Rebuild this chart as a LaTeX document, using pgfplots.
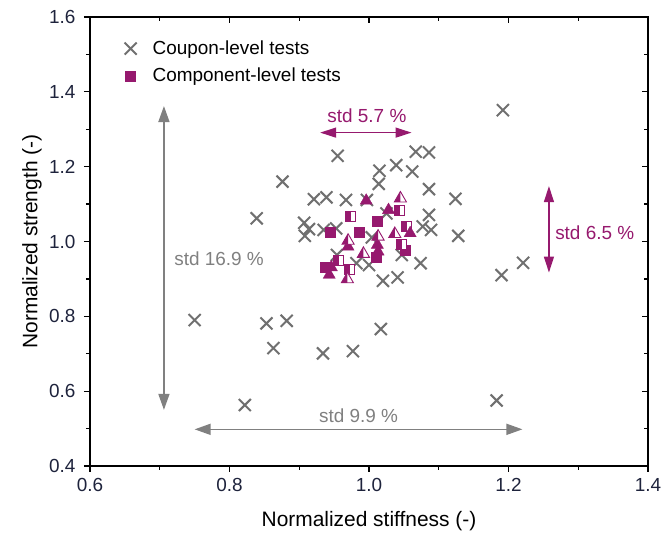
\documentclass[border=0pt]{standalone}
\usepackage{fontspec}
\setmainfont{Liberation Sans}
\usepackage{pgfplots}
\pgfplotsset{compat=1.18}
\usetikzlibrary{arrows.meta}
\definecolor{comp}{RGB}{150,25,110}
\definecolor{coup}{RGB}{112,112,112}
\definecolor{arrg}{RGB}{128,128,128}
\definecolor{tickc}{RGB}{30,35,60}
\pgfplotsset{mylegend/.style={legend image code/.code={\path[draw=none] (0bp,0bp) (32bp,0bp);\draw[##1] plot coordinates {(12bp,0bp)};}}}
\pgfdeclareplotmark{hsq}{%
  \pgfpathrectangle{\pgfqpoint{-\pgfplotmarksize}{-\pgfplotmarksize}}{\pgfqpoint{2\pgfplotmarksize}{2\pgfplotmarksize}}%
  \pgfsetfillcolor{white}\pgfusepathqfillstroke
  \pgfpathrectangle{\pgfqpoint{-\pgfplotmarksize}{-\pgfplotmarksize}}{\pgfqpoint{1.1\pgfplotmarksize}{2\pgfplotmarksize}}%
  \pgfsetfillcolor{comp}\pgfusepathqfill
}
\pgfdeclareplotmark{htri}{%
  \pgfpathmoveto{\pgfqpointpolar{90}{\pgfplotmarksize}}%
  \pgfpathlineto{\pgfqpointpolar{210}{\pgfplotmarksize}}%
  \pgfpathlineto{\pgfqpointpolar{330}{\pgfplotmarksize}}%
  \pgfpathclose
  \pgfsetfillcolor{white}\pgfusepathqfillstroke
  \pgfpathmoveto{\pgfqpointpolar{90}{\pgfplotmarksize}}%
  \pgfpathlineto{\pgfqpointpolar{210}{\pgfplotmarksize}}%
  \pgfpathlineto{\pgfqpoint{0pt}{-0.5\pgfplotmarksize}}%
  \pgfpathclose
  \pgfsetfillcolor{comp}\pgfusepathqfill
}
\pgfplotstableread{
x y
0.955 1.229
1.067 1.240
1.086 1.238
0.876 1.160
1.015 1.189
1.039 1.204
1.062 1.187
1.014 1.154
1.086 1.140
1.124 1.114
0.921 1.113
0.939 1.118
0.967 1.111
0.839 1.062
0.907 1.050
0.914 1.033
0.908 1.015
0.935 1.031
0.953 1.035
1.086 1.071
1.077 1.040
1.089 1.031
1.128 1.015
1.004 1.011
1.074 0.942
1.000 0.937
0.982 0.942
1.020 0.895
1.041 0.904
1.190 0.910
1.221 0.943
0.750 0.790
0.853 0.781
0.882 0.788
0.863 0.715
0.934 0.701
0.977 0.707
1.017 0.766
0.822 0.563
1.183 0.575
1.192 1.351
1.025 1.075
0.954 0.964
1.047 0.964
0.997 1.111
}\coupon
\pgfplotstableread{
x y
1.012 1.053
0.986 1.026
0.944 1.024
1.052 0.977
0.937 0.931
1.011 0.958
}\compsq
\pgfplotstableread{
x y
0.973 1.068
1.044 1.082
1.054 1.040
1.047 0.993
0.956 0.949
0.972 0.926
}\comphsq
\pgfplotstableread{
x y
0.996 1.109
1.028 1.084
1.059 1.022
0.970 0.986
1.012 0.991
1.013 0.973
0.946 0.931
0.943 0.911
}\comptri
\pgfplotstableread{
x y
1.045 1.115
0.970 1.002
1.013 1.013
1.037 1.020
0.992 0.967
0.969 0.899
}\comphtri
\begin{document}
\begin{tikzpicture}
\useasboundingbox (-90bp,-71bp) rectangle (572bp,466bp);
\begin{axis}[
  scale only axis, width=558bp, height=449bp,
  xmin=0.6, xmax=1.4, ymin=0.4, ymax=1.6,
  xtick={0.6,0.8,1.0,1.2,1.4}, ytick={0.4,0.6,0.8,1.0,1.2,1.4,1.6},
  minor x tick num=1, minor y tick num=1,
  xtick pos=bottom, ytick pos=left, tick align=outside,
  major tick length=6bp, minor tick length=4bp,
  tick style={black, line width=1.2bp},
  axis line style={line width=1.2bp},
  /pgf/number format/assume math mode=true,
  /pgf/number format/fixed, /pgf/number format/fixed zerofill, /pgf/number format/precision=1,
  ticklabel style={font=\fontsize{19}{21}\selectfont, text=tickc},
  xticklabel style={yshift=-3bp},
  yticklabel style={xshift=-5bp},
  xlabel={Normalized stiffness (-)}, ylabel={Normalized strength (-)},
  label style={font=\fontsize{21}{24}\selectfont},
  xlabel style={at={(axis description cs:0.5,-0.123)}, anchor=center},
  ylabel style={at={(axis description cs:-0.104,0.5)}, anchor=center},
  legend style={at={(axis cs:0.6365,1.547)}, anchor=north west, draw=none, fill=none,
    font=\fontsize{19}{22}\selectfont, row sep=8bp},
  legend cell align=left,
  clip=false,
]
\addplot[only marks, mark=x, mark size=8.5bp, draw=coup, mark options={line width=2bp}, mylegend] table[x=x,y=y] {\coupon};
\addlegendentry{Coupon-level tests}
\addplot[only marks, mark=square*, mark size=5bp, draw=comp, fill=comp, mylegend] table[x=x,y=y] {\compsq};
\addlegendentry{Component-level tests}
\addplot[only marks, mark=hsq, mark size=5bp, draw=comp, mark options={line width=0.9bp}, forget plot] table[x=x,y=y] {\comphsq};
\addplot[only marks, mark=triangle*, mark size=7bp, draw=comp, fill=comp, forget plot] table[x=x,y=y] {\comptri};
\addplot[only marks, mark=htri, mark size=7bp, draw=comp, mark options={line width=0.9bp}, forget plot] table[x=x,y=y] {\comphtri};
% annotations
\draw[arrg, line width=1.6bp, {Triangle[length=16bp,width=11bp]}-{Triangle[length=16bp,width=11bp]}] (axis cs:0.706,1.362) -- (axis cs:0.706,0.550);
\node[text=arrg, font=\fontsize{19}{22}\selectfont] at (axis cs:0.785,0.953) {std 16.9 \%};
\draw[arrg, line width=1.6bp, {Triangle[length=16bp,width=11bp]}-{Triangle[length=16bp,width=11bp]}] (axis cs:0.750,0.498) -- (axis cs:1.220,0.498);
\node[text=arrg, font=\fontsize{19}{22}\selectfont] at (axis cs:0.985,0.534) {std 9.9 \%};
\draw[comp, line width=1.3bp, {Triangle[length=16bp,width=10bp]}-{Triangle[length=16bp,width=10bp]}] (axis cs:0.930,1.291) -- (axis cs:1.061,1.291);
\node[text=comp, font=\fontsize{19}{22}\selectfont] at (axis cs:0.997,1.335) {std 5.7 \%};
\draw[comp, line width=1.3bp, {Triangle[length=16bp,width=10bp]}-{Triangle[length=16bp,width=10bp]}] (axis cs:1.258,1.148) -- (axis cs:1.258,0.917);
\node[text=comp, font=\fontsize{19}{22}\selectfont, anchor=west] at (axis cs:1.262,1.024) {std 6.5 \%};
\end{axis}
\begin{axis}[
  scale only axis, width=558bp, height=449bp,
  xmin=0.6, xmax=1.4, ymin=0.4, ymax=1.6,
  xtick={0.6,0.8,1.0,1.2,1.4}, ytick={0.4,0.6,0.8,1.0,1.2,1.4,1.6},
  minor x tick num=1, minor y tick num=1,
  xtick pos=top, ytick pos=right, tick align=inside,
  major tick length=6bp, minor tick length=4bp,
  tick style={black, line width=1.2bp},
  axis line style={draw=none},
  xticklabels={}, yticklabels={},
]
\end{axis}
\end{tikzpicture}
\end{document}
